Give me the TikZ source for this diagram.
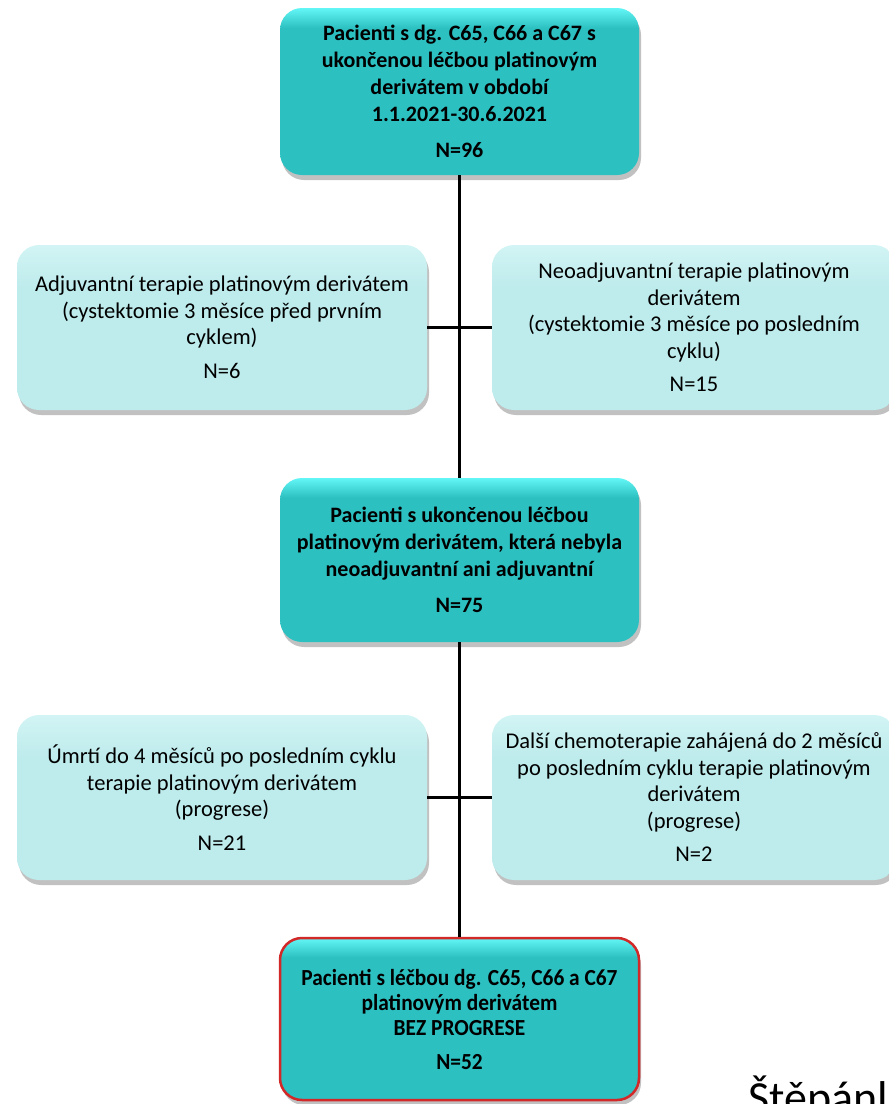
\documentclass[tikz,border=0pt]{standalone}
\usepackage{fontspec}
\setmainfont{Carlito}
\usetikzlibrary{shadows}
\definecolor{tealmain}{RGB}{44,192,193}
\definecolor{tealtop}{RGB}{98,246,246}
\definecolor{lightmain}{RGB}{190,235,236}
\definecolor{lighttop}{RGB}{210,244,244}
\definecolor{redborder}{RGB}{210,40,40}
\pgfdeclareverticalshading{tealsh}{100bp}{color(0bp)=(tealmain); color(25bp)=(tealmain); color(69bp)=(tealmain); color(75bp)=(tealtop); color(100bp)=(tealtop)}
\pgfdeclareverticalshading{lightsh}{100bp}{color(0bp)=(lightmain); color(25bp)=(lightmain); color(62bp)=(lightmain); color(75bp)=(lighttop); color(100bp)=(lighttop)}
\tikzset{
  shadowed/.style={drop shadow={shadow xshift=2pt,shadow yshift=-5pt,opacity=0.3,fill=black!80}},
  basebox/.style={rounded corners=22pt, inner sep=0pt, align=center, shadowed},
  darkbox/.style={basebox, shading=tealsh, minimum width=359pt, minimum height=165pt,
    font=\fontsize{22}{27}\selectfont\bfseries},
  lightbox/.style={basebox, shading=lightsh, minimum height=165pt,
    font=\fontsize{22.5}{26.5}\selectfont},
  endbox/.style={darkbox, draw=redborder, line width=2.5pt,
    font=\fontsize{23}{25}\selectfont\bfseries\addfontfeature{FakeStretch=0.93}},
  link/.style={line width=2.2pt, black}
}
\begin{document}
\begin{tikzpicture}[x=1pt,y=-1pt]
\useasboundingbox (0,0) rectangle (889,1104);
\clip (0,0) rectangle (889,1104);
\node[darkbox, minimum height=167pt] (top) at (459.5,91.5)
  {Pacienti s dg. C65, C66 a C67 s\\ ukončenou léčbou platinovým\\ derivátem v období\\ 1.1.2021-30.6.2021\\[9pt] N=96};
\node[lightbox, minimum width=410pt] (adj) at (222,327.5)
  {Adjuvantní terapie platinovým derivátem\\ (cystektomie 3 měsíce před prvním\\ cyklem)\\[7pt] N=6};
\node[lightbox, minimum width=404pt] (neo) at (694,327.5)
  {Neoadjuvantní terapie platinovým\\ derivátem\\ (cystektomie 3 měsíce po posledním\\ cyklu)\\[7pt] N=15};
\node[darkbox, minimum height=164pt] (mid) at (459.5,560)
  {Pacienti s ukončenou léčbou\\ platinovým derivátem, která nebyla\\ neoadjuvantní ani adjuvantní\\[9pt] N=75};
\node[lightbox, minimum width=410pt] (umr) at (222,797.5)
  {Úmrtí do 4 měsíců po posledním cyklu\\ terapie platinovým derivátem\\ (progrese)\\[7pt] N=21};
\node[lightbox, minimum width=404pt] (dal) at (694,797.5)
  {Další chemoterapie zahájená do 2 měsíců\\ po posledním cyklu terapie platinovým\\ derivátem\\ (progrese)\\[7pt] N=2};
\node[endbox, minimum height=162pt] (bot) at (459.5,1019)
  {Pacienti s léčbou dg. C65, C66 a C67\\ platinovým derivátem\\ BEZ PROGRESE\\[9pt] N=52};
\draw[link] (top.south) -- (mid.north);
\draw[link] (mid.south) -- (bot.north);
\draw[link] (adj.east) -- (neo.west);
\draw[link] (umr.east) -- (dal.west);
\node[anchor=base west, inner sep=0pt, font=\fontsize{46}{50}\selectfont] (author) at (748,1113) {Štěpánl};
\end{tikzpicture}
\end{document}
